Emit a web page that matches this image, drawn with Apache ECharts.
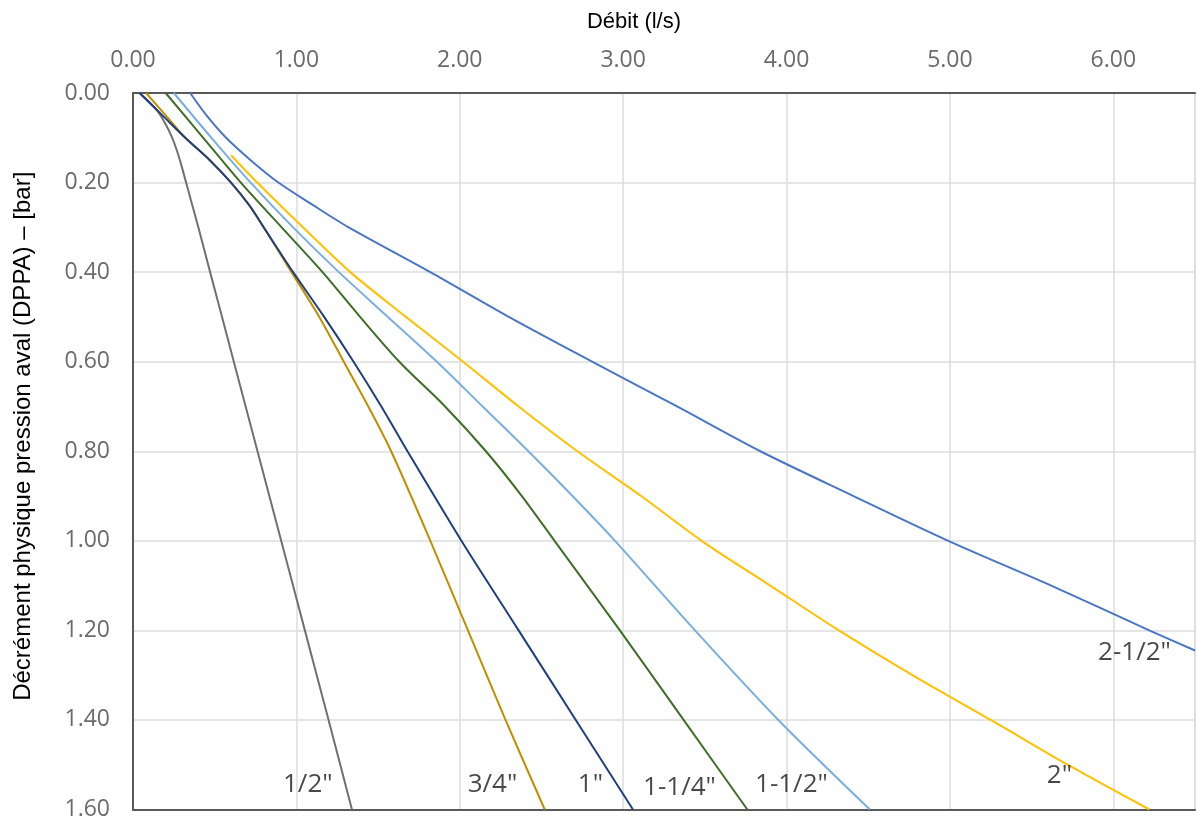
<!DOCTYPE html>
<html>
<head>
<meta charset="utf-8">
<script src="https://cdn.jsdelivr.net/npm/echarts@6/dist/echarts.min.js"></script>
<style>
html,body{margin:0;padding:0;background:#fff;}
#chart{width:1196px;height:821px;}
</style>
</head>
<body>
<div id="chart"></div>
<script>
// Tick values
const xTicks = { min: 0, max: 6.5, interval: 1 };
const yTicks = { min: 0, max: 1.6, interval: 0.2 };

// Series names
const seriesNames = ['1/2"', '3/4"', '1"', '1-1/4"', '1-1/2"', '2"', '2-1/2"'];

// Curves: [débit (l/s), décrément (bar)]
const s_1_2 = [[0.04,0],[0.10,0.02],[0.15,0.04],[0.20,0.07],[0.24,0.10],[0.27,0.13],[0.295,0.16],[0.325,0.2],[0.40,0.3],[0.472,0.4],[0.545,0.5],[0.617,0.6],[0.762,0.8],[0.907,1.0],[1.052,1.2],[1.197,1.4],[1.34,1.6]];
const s_3_4 = [[0.08,0],[0.20,0.05],[0.32,0.1],[0.47,0.15],[0.60,0.2],[0.71,0.25],[0.80,0.3],[0.97,0.4],[1.14,0.5],[1.29,0.6],[1.44,0.7],[1.58,0.8],[1.82,1.0],[2.05,1.2],[2.28,1.4],[2.52,1.6]];
const s_1 = [[0.04,0],[0.18,0.05],[0.32,0.1],[0.47,0.15],[0.60,0.2],[0.71,0.25],[0.80,0.3],[0.98,0.4],[1.17,0.5],[1.35,0.6],[1.52,0.7],[1.68,0.8],[2.01,1.0],[2.36,1.2],[2.71,1.4],[3.06,1.6]];
const s_1_1_4 = [[0.20,0],[0.43,0.1],[0.66,0.2],[0.91,0.3],[1.16,0.4],[1.39,0.5],[1.63,0.6],[1.91,0.7],[2.16,0.8],[2.38,0.9],[2.58,1.0],[2.98,1.2],[3.37,1.4],[3.76,1.6]];
const s_1_1_2 = [[0.25,0],[0.48,0.1],[0.72,0.2],[0.98,0.3],[1.26,0.4],[1.56,0.5],[1.86,0.6],[2.14,0.7],[2.42,0.8],[2.69,0.9],[2.95,1.0],[3.44,1.2],[3.95,1.4],[4.51,1.6]];
const s_2 = [[0.60,0.139],[0.76,0.2],[1.04,0.3],[1.33,0.4],[1.67,0.5],[2.02,0.6],[2.36,0.7],[2.72,0.8],[3.11,0.9],[3.48,1.0],[3.90,1.1],[4.32,1.2],[4.77,1.3],[5.25,1.4],[5.72,1.5],[6.22,1.6]];
const s_2_1_2 = [[0.35,0],[0.45,0.05],[0.57,0.1],[0.72,0.15],[0.89,0.2],[1.10,0.25],[1.32,0.3],[1.82,0.4],[2.30,0.5],[2.81,0.6],[3.33,0.7],[3.84,0.8],[4.41,0.9],[4.99,1.0],[5.62,1.1],[6.22,1.2],[6.5,1.245]];

// Label anchor points [x, y, text]
const curveLabels = [[1.07,1.545,'1/2"'],[2.20,1.545,'3/4"'],[2.80,1.545,'1"'],[3.345,1.55,'1-1/4"'],[4.03,1.545,'1-1/2"'],[5.67,1.525,'2"'],[6.13,1.25,'2-1/2"']];

const colors = ['#707070','#bf8f00','#203f80','#3f6e26','#79aee0','#ffc000','#4a76c8'];
const curves = [s_1_2, s_3_4, s_1, s_1_1_4, s_1_1_2, s_2, s_2_1_2];

const chart = echarts.init(document.getElementById('chart'), null, {renderer:'canvas'});

const lineSeries = curves.map((d,i)=>({
  name: seriesNames[i],
  type: 'line',
  data: d,
  smooth: 0.3,
  showSymbol: false,
  symbol: 'none',
  lineStyle: { color: colors[i], width: 2 },
  z: 3
}));

const labelSeries = {
  type: 'scatter',
  data: curveLabels.map(l=>({ value:[l[0], l[1]], name:l[2] })),
  symbolSize: 0,
  label: {
    show: true,
    position: 'inside',
    formatter: p => p.name,
    fontFamily: 'Open Sans',
    fontSize: 26,
    color: '#1a1a1a'
  },
  z: 5,
  silent: true
};

chart.setOption({
  animation: false,
  backgroundColor: '#ffffff',
  grid: { left: 133, right: 1, top: 93, bottom: 11, show: true, borderColor: '#c8c8c8', borderWidth: 1 },
  xAxis: [{
    type: 'value',
    position: 'top',
    min: xTicks.min, max: xTicks.max, interval: xTicks.interval,
    name: 'Débit (l/s)',
    nameLocation: 'middle',
    nameGap: 60,
    nameTextStyle: { fontFamily: 'Liberation Sans', fontSize: 22, color: '#000', padding: [0, 60, 0, 0] },
    axisLine: { show: true, lineStyle: { color: '#595959', width: 2 } },
    axisTick: { show: false },
    axisLabel: { margin: 21, fontFamily: 'Open Sans', fontSize: 23, color: '#6b6b6b', showMaxLabel: false, formatter: v => v.toFixed(2) },
    splitLine: { show: true, lineStyle: { color: '#dcdcdc', width: 1.5 } }
  },{
    type: 'value',
    position: 'bottom',
    min: xTicks.min, max: xTicks.max, interval: xTicks.interval,
    axisLine: { show: true, onZero: false, lineStyle: { color: '#595959', width: 2 } },
    axisTick: { show: false },
    axisLabel: { show: false },
    splitLine: { show: false }
  }],
  yAxis: {
    type: 'value',
    inverse: true,
    min: yTicks.min, max: yTicks.max, interval: yTicks.interval,
    name: 'Décrément physique pression aval (DPPA) – [bar]',
    nameLocation: 'middle',
    nameGap: 98,
    nameRotate: 90,
    nameTextStyle: { fontFamily: 'Liberation Sans', fontSize: 24, color: '#000', padding: [0, 0, 0, 30] },
    axisLine: { show: true, lineStyle: { color: '#595959', width: 2 } },
    axisTick: { show: false },
    axisLabel: { margin: 23, fontFamily: 'Open Sans', fontSize: 23, color: '#6b6b6b', formatter: v => v.toFixed(2) },
    splitLine: { show: true, lineStyle: { color: '#dcdcdc', width: 1.5 } }
  },
  series: lineSeries.concat([labelSeries])
});
</script>
</body>
</html>
